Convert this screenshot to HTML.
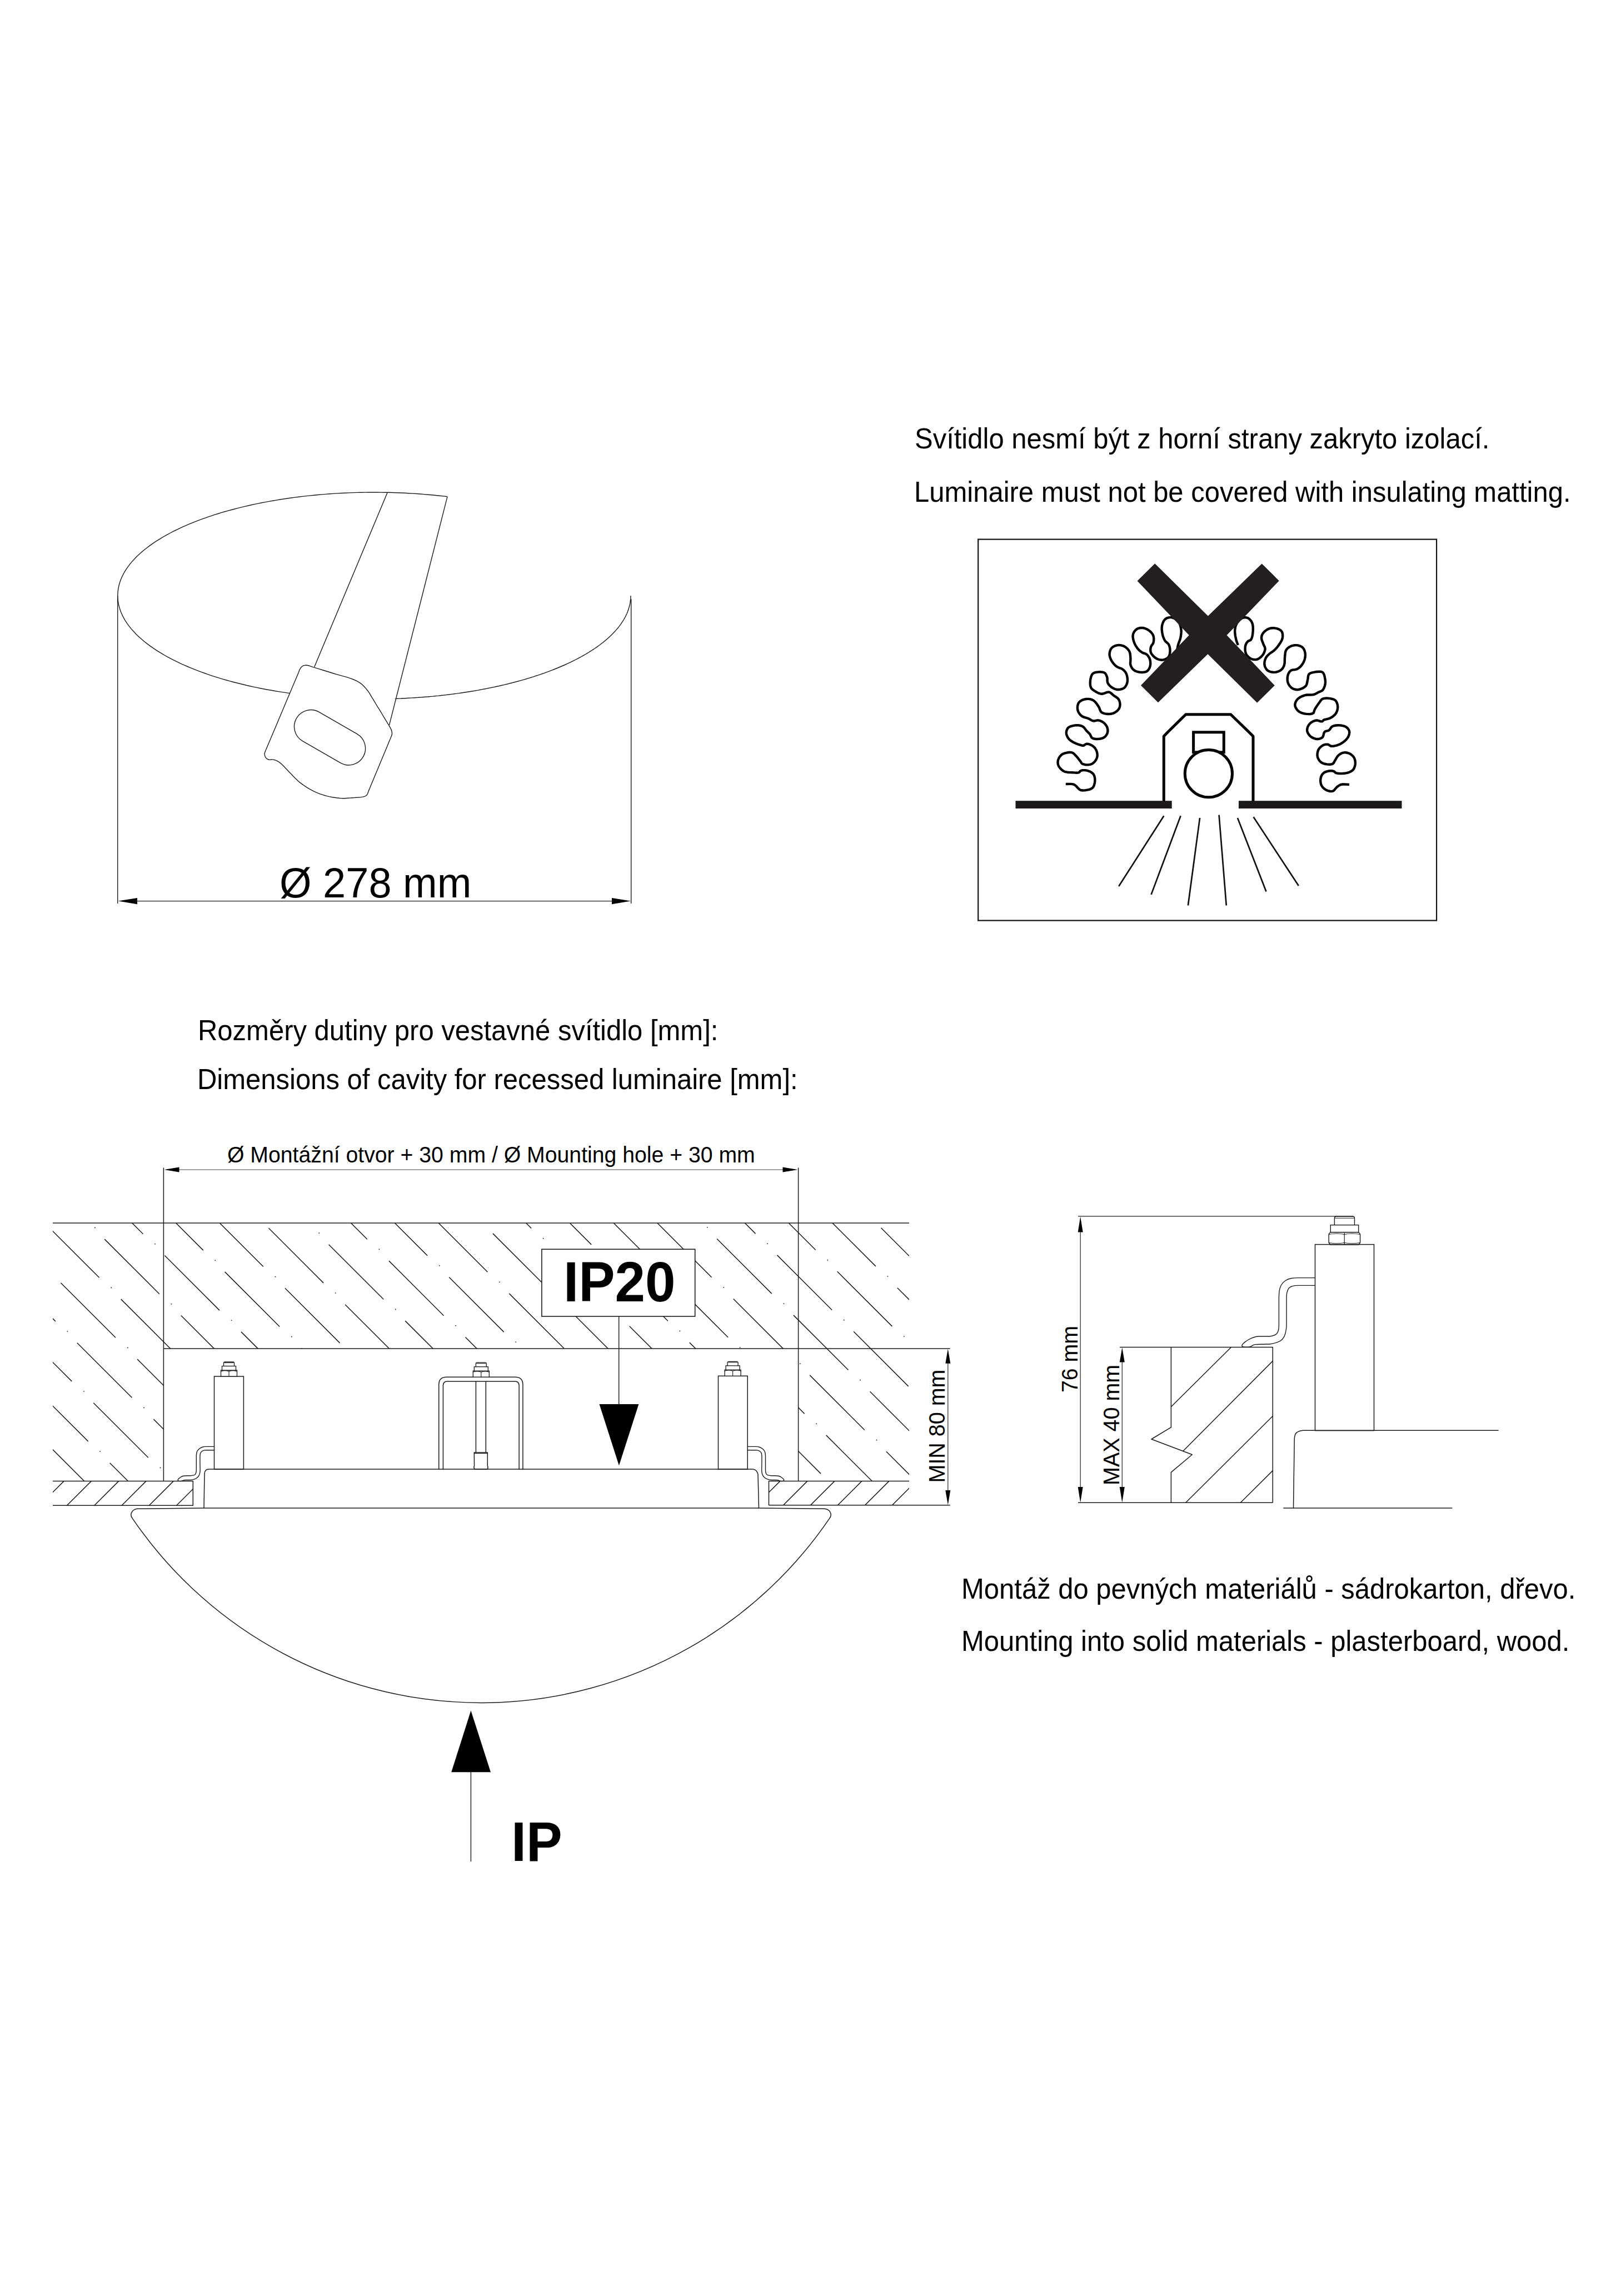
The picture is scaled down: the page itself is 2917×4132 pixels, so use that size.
<!DOCTYPE html>
<html><head><meta charset="utf-8"><title>Recessed luminaire</title>
<style>html,body{margin:0;padding:0;background:#fff;overflow:hidden}svg{display:block}</style></head>
<body><svg width="2917" height="4132" viewBox="0 0 2917 4132">
<rect width="2917" height="4132" fill="#fff"/>
<polyline points="805,893.7 798.1,892.9 791.2,892.2 784.3,891.5 777.4,890.8 770.4,890.2 763.4,889.6 756.4,889 749.4,888.5 742.3,888.1 735.2,887.7 728.1,887.3 721,887 713.9,886.7 706.8,886.5 699.7,886.3 692.6,886.2 685.4,886.1 678.3,886 671.1,886 664,886 656.9,886.1 649.7,886.2 642.6,886.4 635.5,886.6 628.3,886.9 621.2,887.2 614.2,887.5 607.1,887.9 600,888.4 593,888.8 585.9,889.4 578.9,889.9 572,890.5 565,891.2 558.1,891.9 551.2,892.6 544.3,893.4 537.5,894.2 530.7,895.1 523.9,896 517.1,897 510.4,898 503.8,899 497.1,900.1 490.6,901.2 484,902.4 477.5,903.6 471.1,904.8 464.7,906.1 458.4,907.4 452.1,908.8 445.8,910.2 439.6,911.6 433.5,913.1 427.4,914.6 421.4,916.2 415.5,917.8 409.6,919.4 403.7,921 398,922.7 392.3,924.5 386.6,926.2 381.1,928.1 375.6,929.9 370.2,931.8 364.8,933.7 359.5,935.6 354.3,937.6 349.2,939.6 344.2,941.6 339.2,943.7 334.3,945.8 329.5,947.9 324.8,950.1 320.1,952.3 315.6,954.5 311.1,956.7 306.7,959 302.4,961.3 298.2,963.6 294.1,966 290.1,968.4 286.2,970.8 282.3,973.2 278.6,975.6 274.9,978.1 271.4,980.6 267.9,983.1 264.5,985.7 261.3,988.2 258.1,990.8 255,993.4 252.1,996 249.2,998.7 246.4,1001.3 243.8,1004 241.2,1006.7 238.7,1009.4 236.4,1012.1 234.1,1014.8 232,1017.6 230,1020.3 228,1023.1 226.2,1025.9 224.5,1028.7 222.9,1031.5 221.4,1034.3 220,1037.1 218.7,1040 217.5,1042.8 216.5,1045.6 215.5,1048.5 214.7,1051.3 213.9,1054.2 213.3,1057.1 212.8,1059.9 212.4,1062.8 212.1,1065.7 211.9,1068.6 211.8,1071.5 211.8,1074.3 212,1077.2 212.2,1080.1 212.6,1083 213.1,1085.8 213.7,1088.7 214.4,1091.6 215.2,1094.4 216.1,1097.3 217.1,1100.1 218.2,1103 219.5,1105.8 220.8,1108.6 222.3,1111.4 223.9,1114.3 225.5,1117.1 227.3,1119.8 229.2,1122.6 231.2,1125.4 233.3,1128.1 235.5,1130.9 237.8,1133.6 240.3,1136.3 242.8,1139 245.4,1141.7 248.1,1144.3 251,1147 253.9,1149.6 256.9,1152.2 260,1154.8 263.3,1157.4 266.6,1159.9 270,1162.4 273.5,1164.9 277.2,1167.4 280.9,1169.9 284.7,1172.3 288.6,1174.7 292.6,1177.1 296.7,1179.5 300.8,1181.8 305.1,1184.1 309.4,1186.4 313.9,1188.7 318.4,1190.9 323,1193.1 327.7,1195.3 332.5,1197.4 337.3,1199.5 342.3,1201.6 347.3,1203.6 352.4,1205.7 357.5,1207.6 362.8,1209.6 368.1,1211.5 373.5,1213.4 379,1215.3 384.5,1217.1 390.1,1218.9 395.8,1220.6 401.5,1222.3 407.3,1224 413.2,1225.6 419.1,1227.2 425.1,1228.8 431.2,1230.3 437.3,1231.8 443.4,1233.3 449.7,1234.7 455.9,1236.1 462.3,1237.4 468.6,1238.7 475.1,1240 481.5,1241.2 488.1,1242.3 494.6,1243.5 501.2,1244.6 507.9,1245.6 514.6,1246.6 521.3,1247.6" fill="none" stroke="#1a1a1a" stroke-width="1.4" stroke-linejoin="round"/>
<polyline points="711.3,1257.4 714.7,1257.3 718.1,1257.1 721.6,1257 725,1256.8 728.4,1256.7 731.8,1256.5 735.2,1256.3 738.6,1256.1 742,1255.9 745.4,1255.7 748.8,1255.5 752.2,1255.3 755.6,1255 758.9,1254.8 762.3,1254.5 765.7,1254.2 769.1,1254 772.4,1253.7 775.8,1253.4 779.1,1253.1 782.5,1252.7 785.8,1252.4 789.1,1252.1 792.4,1251.7 795.8,1251.3 799.1,1251 802.4,1250.6 805.7,1250.2 808.9,1249.8 812.2,1249.4 815.5,1249 818.8,1248.5 822,1248.1 825.3,1247.6 828.5,1247.2 831.7,1246.7 835,1246.2 838.2,1245.7 841.4,1245.2 844.6,1244.7 847.8,1244.2 850.9,1243.7 854.1,1243.2 857.3,1242.6 860.4,1242.1 863.5,1241.5 866.7,1240.9 869.8,1240.3 872.9,1239.7 876,1239.1 879.1,1238.5 882.1,1237.9 885.2,1237.3 888.2,1236.6 891.3,1236 894.3,1235.3 897.3,1234.7 900.3,1234 903.3,1233.3 906.3,1232.6 909.2,1231.9 912.2,1231.2 915.1,1230.5 918,1229.7 920.9,1229 923.8,1228.2 926.7,1227.5 929.6,1226.7 932.4,1226 935.3,1225.2 938.1,1224.4 940.9,1223.6 943.7,1222.8 946.5,1222 949.2,1221.1 952,1220.3 954.7,1219.5 957.4,1218.6 960.1,1217.8 962.8,1216.9 965.5,1216 968.1,1215.2 970.8,1214.3 973.4,1213.4 976,1212.5 978.6,1211.6 981.1,1210.6 983.7,1209.7 986.2,1208.8 988.7,1207.8 991.2,1206.9 993.7,1205.9 996.2,1205 998.6,1204 1001.1,1203 1003.5,1202 1005.9,1201 1008.2,1200 1010.6,1199 1012.9,1198 1015.3,1197 1017.6,1196 1019.8,1194.9 1022.1,1193.9 1024.3,1192.8 1026.6,1191.8 1028.8,1190.7 1030.9,1189.6 1033.1,1188.6 1035.2,1187.5 1037.4,1186.4 1039.5,1185.3 1041.6,1184.2 1043.6,1183.1 1045.7,1182 1047.7,1180.9 1049.7,1179.7 1051.7,1178.6 1053.6,1177.5 1055.6,1176.3 1057.5,1175.2 1059.4,1174 1061.2,1172.9 1063.1,1171.7 1064.9,1170.5 1066.7,1169.3 1068.5,1168.2 1070.3,1167 1072,1165.8 1073.8,1164.6 1075.5,1163.4 1077.1,1162.2 1078.8,1161 1080.4,1159.7 1082,1158.5 1083.6,1157.3 1085.2,1156.1 1086.7,1154.8 1088.2,1153.6 1089.7,1152.3 1091.2,1151.1 1092.7,1149.8 1094.1,1148.6 1095.5,1147.3 1096.9,1146 1098.2,1144.8 1099.5,1143.5 1100.9,1142.2 1102.1,1140.9 1103.4,1139.6 1104.6,1138.3 1105.9,1137 1107,1135.7 1108.2,1134.4 1109.3,1133.1 1110.5,1131.8 1111.6,1130.5 1112.6,1129.2 1113.7,1127.9 1114.7,1126.6 1115.7,1125.2 1116.7,1123.9 1117.6,1122.6 1118.5,1121.2 1119.4,1119.9 1120.3,1118.6 1121.1,1117.2 1122,1115.9 1122.8,1114.5 1123.5,1113.2 1124.3,1111.8 1125,1110.5 1125.7,1109.1 1126.4,1107.8 1127,1106.4 1127.7,1105 1128.3,1103.7 1128.8,1102.3 1129.4,1101 1129.9,1099.6 1130.4,1098.2 1130.9,1096.8 1131.3,1095.5 1131.7,1094.1 1132.1,1092.7 1132.5,1091.3 1132.8,1090 1133.2,1088.6 1133.5,1087.2 1133.7,1085.8 1134,1084.5 1134.2,1083.1 1134.4,1081.7 1134.5,1080.3 1134.7,1078.9 1134.8,1077.5 1134.9,1076.2 1134.9,1074.8 1135,1073.4 1135,1072" fill="none" stroke="#1a1a1a" stroke-width="1.4" stroke-linejoin="round"/>
<line x1="211.7" y1="1072" x2="211.7" y2="1626" stroke="#1a1a1a" stroke-width="1.4"/>
<line x1="1135.7" y1="1078" x2="1135.7" y2="1626" stroke="#1a1a1a" stroke-width="1.4"/>
<line x1="240" y1="1621.6" x2="1110" y2="1621.6" stroke="#1a1a1a" stroke-width="1.3"/>
<polygon points="212.5,1621.6 247,1616 247,1627.2" fill="#000"/>
<polygon points="1135.2,1621.6 1101,1616 1101,1627.2" fill="#000"/>
<line x1="697" y1="886.7" x2="565.7" y2="1200.3" stroke="#1a1a1a" stroke-width="1.4"/>
<line x1="805" y1="893.8" x2="700.5" y2="1304.8" stroke="#1a1a1a" stroke-width="1.4"/>
<polyline points="552.2,1197.3 554,1197.5 555.8,1198 557.7,1198.6 559.7,1199.3 561.9,1200.1 564.3,1200.9 569.2,1202.4 574.9,1204.1 581.1,1206 587.6,1208 594.1,1210 600.3,1212 606.6,1213.8 613,1215.6 619.4,1217.4 625.7,1219.2 631.4,1221.1 636.4,1223 639.3,1224.3 641.9,1225.5 644.3,1226.8 646.5,1228.1 648.7,1229.6 650.9,1231.3 653.3,1233.5 655.7,1236 658.1,1238.6 660.2,1241.3 662.2,1243.7 663.7,1245.8 664.3,1246.7 664.8,1247.4 665.2,1248.1 665.6,1248.8 666.1,1249.7 666.7,1250.7 668.5,1253.8 670.9,1257.7 673.6,1262.2 676.5,1267 679.4,1271.8 682.2,1276.2 684.9,1280.7 687.8,1285.5 690.7,1290.3 693.4,1294.8 695.8,1298.7 697.6,1301.8 698.3,1302.8 698.8,1303.7 699.3,1304.4 699.7,1305.1 700.1,1305.9 700.6,1306.7 701.3,1307.9 702,1309.2 702.8,1310.6 703.5,1312 704.1,1313.4 704.6,1314.7 704.9,1315.8 705.1,1316.9 705.3,1318 705.4,1319.1 705.5,1320.1 705.4,1321.1 705.3,1322 705.1,1322.8 704.8,1323.6 704.5,1324.4 704.1,1325.2 703.8,1326 703.4,1326.9 703.1,1327.8 702.7,1328.7 702.3,1329.7 701.8,1330.9 701.2,1332.3 699,1337.4 696.2,1344.4 692.8,1352.5 689.2,1361.3 685.5,1370 682.2,1378.1 678.8,1386.2 675.1,1394.9 671.5,1403.7 668.1,1411.8 665.3,1418.8 663.1,1423.9 662.6,1425.4 662.2,1426.6 661.8,1427.6 661.5,1428.5 661.1,1429.4 660.5,1430.2 659.9,1430.9 659.2,1431.5 658.5,1432 657.7,1432.5 656.8,1433 655.7,1433.4 652.9,1434.1 649.4,1434.6 645.4,1435 641.2,1435.3 637,1435.6 633.2,1435.8 629.9,1436.1 626.8,1436.3 623.7,1436.5 620.5,1436.7 617.3,1436.7 614,1436.6 609.9,1436.3 605.6,1435.8 601.3,1435.2 596.9,1434.5 592.5,1433.6 588.3,1432.6 584.2,1431.5 580.1,1430.2 576.1,1428.8 572.2,1427.3 568.2,1425.6 564.3,1423.8 560.2,1421.7 556,1419.3 551.9,1416.8 547.9,1414.2 544,1411.4 540.2,1408.6 536.7,1405.7 533.4,1402.6 530.2,1399.4 527,1396.2 524,1393 521,1390 518.4,1387.3 515.9,1384.6 513.4,1381.9 511,1379.3 508.7,1376.9 506.5,1374.9 505.1,1373.7 503.7,1372.6 502.4,1371.7 501.2,1370.8 499.9,1370 498.5,1369.3 497.2,1368.7 495.8,1368.2 494.5,1367.7 493.1,1367.4 491.8,1367.1 490.5,1366.9 489.4,1366.9 488.3,1367 487.2,1367.2 486.2,1367.4 485.1,1367.4 484.1,1367.3 483.1,1367 482,1366.5 481,1365.9 480,1365.3 479.1,1364.5 478.4,1363.7 477.7,1362.7 477.1,1361.5 476.7,1360.2 476.3,1358.9 476.1,1357.6 476,1356.4 476.1,1355.6 476.3,1354.8 476.6,1354 476.9,1353.2 477.3,1352.4 477.6,1351.6 478,1350.5 478.4,1349.5 478.9,1348.5 479.4,1347.3 480,1345.9 480.7,1344.2 483.8,1336.9 488,1326.9 493.1,1315 498.5,1302.2 503.9,1289.3 508.9,1277.4 513.9,1265.6 519.3,1252.7 524.7,1239.9 529.8,1228 534,1218 537.1,1210.7 537.7,1209 538.3,1207.6 538.7,1206.4 539.1,1205.3 539.6,1204.3 540.2,1203.3 540.9,1202.3 541.6,1201.4 542.4,1200.5 543.2,1199.7 544.1,1199 545,1198.4 546,1197.9 547.2,1197.6 548.3,1197.4 549.6,1197.3 550.9,1197.2 552.2,1197.3" fill="none" stroke="#1a1a1a" stroke-width="1.4" stroke-linejoin="round"/>
<path d="M 544.5 1333.6 L 612.6 1372.9 A 30 30 0 0 0 642.6 1320.9 L 574.5 1281.6 A 30 30 0 0 0 544.5 1333.6 Z" fill="none" stroke="#1a1a1a" stroke-width="1.4" stroke-linejoin="round" stroke-linecap="round" />
<rect x="1760.2" y="970.6" width="824.9" height="686" fill="none" stroke="#111" stroke-width="2.2"/>
<polyline points="1917.8,1410.9 1920.8,1411 1923.9,1410.9 1926.9,1410.9 1929.8,1411.1 1932.6,1411.9 1935.2,1413.5 1937.5,1415.7 1939.7,1418.2 1942,1420.4 1944.4,1421.8 1946.5,1422.3 1948.7,1422.5 1950.9,1422.4 1953.1,1422.2 1955.3,1421.8 1957.6,1421.4 1960,1420.8 1962.3,1420.1 1964.4,1419.1 1966.1,1417.8 1967.4,1416.2 1968.4,1414.3 1969.1,1412.2 1969.7,1410.1 1970.1,1407.9 1970.3,1405.6 1970.4,1403 1970.2,1400.5 1969.7,1398.2 1969.1,1396.1 1968.4,1394.7 1967.6,1393.4 1966.6,1392.2 1965.5,1391.2 1964.2,1390.2 1962.4,1389.1 1960.2,1388.1 1957.9,1387.2 1955.5,1386.6 1953.3,1386.2 1951.4,1386.1 1949.4,1386.1 1947.5,1386.3 1945.8,1386.7 1944.4,1387.2 1943.7,1387.7 1943.2,1388.4 1942.8,1389.1 1942.2,1389.7 1941.5,1390.2 1939.7,1390.6 1937.4,1390.7 1934.9,1390.6 1932.2,1390.4 1929.6,1390.2 1926.7,1390.1 1923.6,1390 1920.5,1389.7 1917.5,1389.2 1914.8,1388.2 1912.4,1386.8 1910.1,1384.9 1908,1382.8 1906.2,1380.5 1904.9,1378.3 1904.2,1376.4 1903.7,1374.4 1903.5,1372.4 1903.6,1370.4 1903.9,1368.5 1904.6,1366.4 1905.6,1364.2 1906.8,1362.1 1908.3,1360.2 1909.9,1358.6 1911.6,1357.4 1913.5,1356.4 1915.6,1355.7 1917.6,1355.1 1919.7,1354.6 1921.7,1354.3 1923.8,1354 1925.8,1354 1927.8,1354.1 1929.6,1354.6 1931.1,1355.4 1932.6,1356.5 1933.9,1357.8 1935.2,1359.2 1936.5,1360.6 1938.2,1362.4 1939.9,1364.5 1941.5,1366.6 1943.1,1368.7 1944.4,1370.4 1945,1371.3 1945.6,1372.2 1946,1373 1946.6,1373.8 1947.4,1374.4 1949,1375.2 1950.9,1375.7 1953,1376.2 1955.2,1376.4 1957.3,1376.4 1959.3,1376.2 1961.4,1375.8 1963.4,1375.3 1965.4,1374.5 1967.1,1373.4 1968.8,1371.9 1970.5,1370 1971.9,1367.9 1973.1,1365.7 1974,1363.5 1974.5,1361.6 1974.7,1359.6 1974.6,1357.6 1974.4,1355.6 1974,1353.7 1973.4,1351.8 1972.6,1349.9 1971.5,1348 1970.4,1346.3 1969.1,1344.8 1967.7,1343.5 1966.1,1342.4 1964.5,1341.3 1962.8,1340.5 1961.2,1339.8 1960,1339.4 1958.8,1339 1957.6,1338.8 1956.5,1338.7 1955.3,1338.8 1954.1,1339.2 1952.9,1339.9 1951.7,1340.7 1950.6,1341.4 1949.4,1341.8 1948.4,1341.8 1947.5,1341.7 1946.5,1341.5 1945.5,1341.2 1944.4,1340.8 1942.2,1340.1 1939.5,1339.3 1936.8,1338.3 1934.1,1337.1 1931.6,1335.9 1929.6,1334.7 1927.6,1333.5 1925.8,1332.1 1924.1,1330.6 1922.7,1329 1921.5,1327.2 1920.5,1325.2 1919.6,1323.2 1919,1321.1 1918.8,1319.1 1918.9,1317.2 1919.2,1315.3 1919.9,1313.4 1920.7,1311.7 1921.7,1310.2 1922.9,1309.1 1924.4,1308.2 1926,1307.4 1927.8,1306.8 1929.6,1306.3 1931.8,1305.8 1934.3,1305.4 1936.8,1305.2 1939.2,1305.1 1941.5,1305.3 1943.2,1305.6 1944.9,1306 1946.5,1306.6 1948,1307.3 1949.4,1308.2 1950.7,1309.4 1951.9,1310.7 1953,1312.3 1954.1,1313.8 1955.3,1315.2 1956.5,1316.4 1957.7,1317.6 1959,1318.7 1960.1,1319.9 1961.2,1321.1 1962,1322.5 1962.7,1324 1963.4,1325.5 1964.1,1326.9 1965.2,1328 1966.8,1328.9 1968.7,1329.5 1970.7,1329.8 1972.9,1330 1975,1330 1977.4,1329.8 1980,1329.5 1982.5,1328.9 1984.9,1328.1 1986.9,1327 1988.5,1325.8 1989.9,1324.3 1991.1,1322.6 1992.1,1320.9 1992.8,1319.1 1993.2,1317.4 1993.4,1315.6 1993.4,1313.8 1993.2,1312 1992.8,1310.2 1992.1,1308.3 1991.1,1306.4 1989.8,1304.5 1988.4,1302.8 1986.9,1301.3 1985.2,1300 1983.2,1298.7 1981.2,1297.7 1979.1,1296.9 1977,1296.4 1975,1296.3 1973,1296.7 1971,1297.1 1969,1297.5 1967.1,1297.4 1965.5,1296.9 1963.9,1296.1 1962.4,1295.2 1960.9,1294.3 1959.2,1293.4 1956.8,1292.5 1954,1291.7 1951.3,1290.9 1948.7,1289.9 1946.4,1288.5 1944.6,1286.9 1942.9,1285 1941.5,1283 1940.3,1280.8 1939.5,1278.6 1939,1276.1 1938.9,1273.4 1939.1,1270.6 1939.7,1268 1940.5,1265.8 1941.5,1264.3 1942.7,1262.9 1944.1,1261.8 1945.7,1260.8 1947.4,1259.9 1949.5,1259.1 1951.9,1258.5 1954.4,1258 1956.9,1257.9 1959.2,1257.9 1961.1,1258.1 1962.9,1258.5 1964.7,1259.1 1966.4,1259.9 1968.1,1260.9 1970.1,1262.6 1972,1264.6 1973.8,1267 1975.5,1269.4 1977,1271.7 1978.1,1273.8 1978.9,1276 1979.6,1278.1 1980.6,1280 1981.9,1281.6 1983.8,1282.8 1986.2,1283.8 1988.7,1284.4 1991.3,1284.8 1993.8,1285 1996,1285 1998.2,1284.8 2000.5,1284.5 2002.6,1283.9 2004.6,1283.1 2006.6,1282 2008.7,1280.7 2010.6,1279.1 2012.2,1277.4 2013.5,1275.7 2014.3,1274.1 2014.9,1272.3 2015.3,1270.5 2015.5,1268.6 2015.5,1266.8 2015.3,1265 2014.9,1263.1 2014.3,1261.2 2013.5,1259.5 2012.5,1257.9 2011.2,1256.5 2009.7,1255.3 2008,1254.2 2006.3,1253.1 2004.6,1252 2002.9,1250.6 2001.1,1249 1999.4,1247.5 1997.5,1246.2 1995.5,1245.5 1993,1245.6 1990.4,1246.4 1987.6,1247.6 1984.8,1248.5 1982.2,1248.8 1979.9,1248.4 1977.5,1247.7 1975.3,1246.6 1973.1,1245.5 1971.1,1244.3 1969.3,1243.2 1967.5,1242.1 1965.9,1240.8 1964.4,1239.4 1963.3,1237.7 1962.4,1235.2 1961.9,1232.3 1961.8,1229.2 1961.9,1226.1 1962.2,1223.2 1962.7,1220.7 1963.3,1218.2 1964.2,1215.8 1965.3,1213.7 1966.7,1212.1 1968.3,1211 1970.3,1210.3 1972.4,1209.8 1974.6,1209.6 1976.7,1209.4 1979,1209.3 1981.4,1209.4 1983.8,1209.6 1986,1210.1 1987.8,1211 1989.1,1212.1 1990.1,1213.6 1990.9,1215.3 1991.6,1217 1992.2,1218.8 1992.6,1220.7 1992.6,1222.8 1992.6,1224.9 1992.8,1226.9 1993.3,1228.8 1994.2,1230.6 1995.4,1232.3 1996.8,1233.8 1998.3,1235.3 2000,1236.6 2002,1237.9 2004.1,1239 2006.4,1240 2008.8,1240.7 2011.1,1241 2013.6,1241 2016.2,1240.6 2018.9,1240 2021.3,1239 2023.3,1237.7 2024.9,1236 2026.3,1233.9 2027.4,1231.6 2028.3,1229.1 2028.8,1226.6 2029,1223.8 2028.8,1220.7 2028.3,1217.6 2027.6,1214.7 2026.6,1212.1 2025.6,1210.3 2024.4,1208.6 2023.1,1207.1 2021.6,1205.7 2020,1204.4 2018.2,1203.3 2016.1,1202.5 2014,1201.8 2011.9,1200.9 2010,1199.9 2008.3,1198.6 2006.6,1197.2 2005,1195.7 2003.6,1194 2002.2,1192.2 2000.7,1189.8 1999.2,1187.2 1998,1184.4 1997.1,1181.5 1996.6,1178.8 1996.6,1176.2 1997,1173.6 1997.7,1171 1998.7,1168.6 2000,1166.6 2001.7,1165 2003.8,1163.6 2006.2,1162.4 2008.7,1161.6 2011.1,1161.1 2013.5,1160.9 2016.1,1161.1 2018.6,1161.6 2021.1,1162.3 2023.3,1163.3 2025.4,1164.6 2027.4,1166.2 2029.3,1168.1 2030.9,1170.1 2032.2,1172.2 2033.1,1174.4 2033.7,1176.8 2034,1179.4 2034.2,1181.9 2034.4,1184.4 2034.4,1186.9 2034.3,1189.4 2034.1,1191.9 2034,1194.3 2034.4,1196.6 2035.1,1198.6 2036,1200.6 2037.1,1202.4 2038.4,1204.1 2039.9,1205.5 2041.9,1206.9 2044.3,1208 2047,1208.9 2049.6,1209.5 2052.2,1209.9 2054.7,1210 2057.4,1209.9 2060,1209.5 2062.4,1208.8 2064.4,1207.7 2066,1206.2 2067.3,1204.3 2068.5,1202.2 2069.3,1199.9 2069.9,1197.7 2070.2,1195.3 2070.2,1192.8 2070,1190.2 2069.5,1187.7 2068.8,1185.5 2068,1183.7 2067,1182 2065.9,1180.4 2064.7,1178.9 2063.3,1177.7 2061.9,1176.8 2060.3,1176.2 2058.7,1175.7 2057.1,1175.2 2055.5,1174.4 2053.9,1173.3 2052.2,1172.1 2050.7,1170.8 2049.1,1169.3 2047.7,1167.7 2046.2,1165.8 2044.7,1163.6 2043.3,1161.4 2042.1,1159 2041.1,1156.6 2040.2,1153.8 2039.3,1150.9 2038.8,1147.8 2038.5,1144.9 2038.8,1142.2 2039.5,1139.9 2040.6,1137.6 2042.1,1135.5 2043.7,1133.7 2045.5,1132.2 2047.4,1131.2 2049.6,1130.5 2051.9,1130 2054.3,1129.9 2056.6,1130 2059.1,1130.5 2061.7,1131.4 2064.3,1132.6 2066.7,1134 2068.8,1135.5 2070.5,1137 2072.1,1138.7 2073.5,1140.5 2074.6,1142.4 2075.5,1144.4 2076,1146.7 2076.3,1149.2 2076.2,1151.8 2076,1154.3 2075.5,1156.6 2074.8,1158.3 2073.8,1159.8 2072.7,1161.3 2071.7,1162.8 2071,1164.4 2070.6,1166.3 2070.3,1168.3 2070.3,1170.4 2070.5,1172.5 2071,1174.4 2072.1,1176.6 2073.7,1178.8 2075.7,1181 2077.8,1182.9 2079.9,1184.4 2081.9,1185.6 2084.2,1186.5 2086.4,1187.2 2088.7,1187.6 2091,1187.7 2093.4,1187.4 2095.8,1186.8 2098.2,1185.9 2100.4,1184.7 2102.1,1183.3 2103.3,1181.5 2104.3,1179.4 2104.9,1177 2105.3,1174.6 2105.5,1172.2 2105.5,1169.7 2105.3,1167.1 2104.8,1164.6 2104.1,1162.1 2103.2,1160 2102.1,1158.5 2100.8,1157.2 2099.3,1156 2097.8,1154.8 2096.6,1153.3 2095.4,1151.4 2094.4,1149.2 2093.5,1147 2092.7,1144.6 2092.1,1142.2 2091.5,1139.2 2091,1136.1 2090.7,1132.8 2090.7,1129.6 2091,1126.6 2091.6,1123.9 2092.5,1121.1 2093.6,1118.5 2095,1116.2 2096.6,1114.4 2098.5,1113.1 2100.6,1112.1 2103,1111.4 2105.4,1111.1 2107.7,1111.1 2110.2,1111.6 2112.9,1112.7 2115.5,1114.1 2117.9,1115.9 2119.9,1117.8 2121.6,1120.2 2123,1123 2124,1126 2124.8,1129.1 2125.4,1132.2 2125.7,1135.3 2125.6,1138.4 2125.3,1141.6 2124.9,1144.7 2124.3,1147.7 2123.6,1150.5 2122.7,1153.2 2121.6,1155.9 2120.7,1158.5 2119.9,1161.1 2119.4,1163.3 2119,1165.5 2118.7,1167.7 2118.3,1169.8 2118,1172" fill="none" stroke="#000" stroke-width="4.4" stroke-linejoin="round"/>
<polyline points="2428.1,1411.9 2425.1,1411.8 2421.9,1411.6 2418.8,1411.4 2415.9,1411.5 2413.3,1411.9 2411.5,1412.6 2409.8,1413.5 2408.3,1414.5 2406.9,1415.6 2405.4,1416.8 2404,1418.2 2402.7,1419.8 2401.5,1421.4 2400.1,1422.8 2398.5,1423.7 2396.4,1424.1 2393.9,1424 2391.3,1423.5 2388.8,1422.8 2386.6,1421.8 2384.5,1420.5 2382.4,1418.9 2380.5,1417.1 2378.9,1415 2377.7,1412.9 2376.9,1410.5 2376.4,1407.9 2376.2,1405.1 2376.3,1402.4 2376.7,1400 2377.3,1398 2378,1396.1 2379.1,1394.2 2380.3,1392.6 2381.7,1391.2 2383.7,1389.9 2386.1,1388.9 2388.7,1388.1 2391.2,1387.5 2393.5,1387.2 2395,1387.1 2396.5,1387.2 2397.9,1387.4 2399.2,1387.8 2400.4,1388.2 2401.2,1388.7 2401.9,1389.4 2402.6,1390.1 2403.4,1390.7 2404.4,1391.2 2407.3,1391.8 2411.1,1392.1 2415.3,1392.1 2419.4,1391.8 2423.1,1391.2 2425.8,1390.5 2428.5,1389.5 2431,1388.3 2433.2,1386.9 2435,1385.2 2436.4,1383.2 2437.4,1380.9 2438.2,1378.4 2438.7,1375.8 2438.9,1373.4 2438.8,1371.1 2438.5,1368.8 2437.9,1366.6 2437.1,1364.4 2436,1362.5 2434.6,1360.8 2433,1359.2 2431.1,1357.7 2429.1,1356.5 2427.1,1355.6 2425.2,1355 2423.2,1354.5 2421.2,1354.3 2419.1,1354.3 2417.2,1354.6 2415.3,1355.2 2413.4,1356 2411.6,1357 2409.9,1358.3 2408.3,1359.6 2406.9,1361.2 2405.6,1363 2404.5,1364.9 2403.5,1366.8 2402.4,1368.5 2401.6,1369.8 2401,1371.2 2400.3,1372.4 2399.5,1373.5 2398.5,1374.4 2396.7,1375.1 2394.6,1375.5 2392.3,1375.7 2389.9,1375.6 2387.6,1375.4 2385.3,1375 2383,1374.5 2380.7,1373.7 2378.6,1372.7 2376.7,1371.4 2375.1,1369.8 2373.6,1368 2372.4,1365.9 2371.4,1363.7 2370.8,1361.5 2370.5,1359 2370.6,1356.3 2371.1,1353.6 2371.8,1351 2372.8,1348.7 2374.1,1346.7 2375.8,1344.9 2377.8,1343.2 2379.8,1341.8 2381.7,1340.8 2383.3,1340.2 2384.9,1339.8 2386.5,1339.6 2388.1,1339.6 2389.6,1339.8 2390.8,1340.2 2391.9,1340.9 2393,1341.7 2394.2,1342.4 2395.5,1342.8 2397.6,1342.9 2400,1342.7 2402.4,1342.2 2404.9,1341.6 2407.3,1340.8 2409.6,1339.9 2411.9,1338.9 2414.1,1337.7 2416.2,1336.3 2418.2,1334.9 2420.1,1333.3 2421.8,1331.7 2423.5,1329.8 2424.9,1328 2426.1,1326 2427,1324.1 2427.6,1322.1 2428.1,1320 2428.3,1318 2428.1,1316.1 2427.5,1314.3 2426.5,1312.6 2425.3,1310.9 2423.8,1309.4 2422.2,1308.2 2420,1307.1 2417.5,1306.3 2414.7,1305.8 2412,1305.4 2409.3,1305.3 2406.8,1305.3 2404.3,1305.5 2401.8,1305.8 2399.5,1306.4 2397.5,1307.3 2396.1,1308.4 2394.9,1309.9 2393.9,1311.5 2392.8,1313 2391.5,1314.2 2390,1314.9 2388.3,1315.4 2386.6,1315.7 2385,1316.2 2383.7,1317.1 2382.7,1318.7 2382,1320.9 2381.5,1323.2 2380.8,1325.3 2379.7,1327 2378.1,1328.1 2376.2,1329 2374.1,1329.6 2371.9,1330 2369.8,1330 2367.4,1329.7 2364.9,1328.9 2362.3,1327.9 2360,1326.5 2358,1325 2356.3,1323.2 2354.7,1321.1 2353.4,1318.9 2352.5,1316.5 2352.1,1314.2 2352.3,1311.8 2352.9,1309.2 2354,1306.7 2355.4,1304.3 2357,1302.3 2358.9,1300.6 2361.2,1299.1 2363.8,1297.8 2366.4,1296.9 2368.8,1296.4 2370.9,1296.5 2373,1297.1 2375.1,1297.8 2377,1298.4 2378.7,1298.4 2379.6,1298 2380.4,1297.4 2381,1296.7 2381.8,1296 2382.7,1295.4 2384.5,1294.8 2386.7,1294.3 2389,1293.8 2391.3,1293.2 2393.5,1292.4 2395.7,1291.2 2397.9,1289.8 2399.9,1288.2 2401.8,1286.5 2403.4,1284.6 2404.7,1282.5 2405.8,1280.1 2406.6,1277.7 2407.1,1275.1 2407.3,1272.7 2407.1,1270.2 2406.7,1267.6 2405.9,1265.1 2404.8,1262.8 2403.4,1260.9 2401.7,1259.6 2399.6,1258.5 2397.3,1257.8 2394.9,1257.3 2392.5,1256.9 2389.9,1256.6 2387.2,1256.5 2384.4,1256.7 2381.9,1257.1 2379.7,1257.9 2378.2,1258.9 2377,1260.2 2376,1261.6 2374.9,1263.2 2373.8,1264.8 2372.2,1267 2370.5,1269.4 2368.8,1272 2367.2,1274.4 2365.9,1276.7 2365.3,1278.3 2364.8,1279.8 2364.4,1281.3 2363.9,1282.6 2362.9,1283.6 2360.8,1284.5 2358.1,1285 2355.1,1285.1 2352,1284.9 2349.1,1284.6 2346.4,1284.1 2343.6,1283.3 2340.9,1282.4 2338.4,1281.1 2336.3,1279.6 2334.5,1277.8 2332.9,1275.7 2331.6,1273.4 2330.7,1271.1 2330.3,1268.8 2330.5,1266.6 2331.2,1264.2 2332.3,1261.9 2333.7,1259.8 2335.3,1257.9 2337.5,1256.1 2340.1,1254.4 2343.1,1253.1 2346.1,1251.9 2349.1,1251 2352,1250.5 2355.1,1250.4 2358.2,1250.5 2361.2,1250.4 2363.9,1250 2366,1249.3 2367.9,1248.4 2369.7,1247.4 2371.5,1246.4 2373.2,1245.5 2374.7,1244.9 2376.1,1244.3 2377.5,1243.8 2378.8,1243.1 2380,1242.1 2381.2,1240.5 2382.3,1238.6 2383.2,1236.4 2384,1234.2 2384.5,1232 2384.8,1230 2385,1228.1 2385,1226.1 2384.8,1224 2384.5,1222 2384,1219.4 2383.5,1216.7 2382.6,1213.9 2381.5,1211.6 2380,1209.9 2377.9,1209 2375.2,1208.6 2372.3,1208.7 2369.3,1209 2366.6,1209.4 2364.1,1209.8 2361.6,1210.3 2359.2,1211 2357.1,1212 2355.5,1213.3 2354.6,1214.9 2354.1,1216.8 2353.8,1218.9 2353.6,1221.1 2353.2,1223.2 2352.7,1225.5 2352.3,1227.8 2351.8,1230.2 2351.1,1232.4 2349.9,1234.3 2347.9,1236.2 2345.3,1237.9 2342.4,1239.3 2339.4,1240.4 2336.6,1241 2334.3,1241.2 2332,1241 2329.7,1240.5 2327.5,1239.8 2325.5,1238.8 2323.6,1237.4 2321.7,1235.5 2320.1,1233.4 2318.7,1231.1 2317.7,1228.8 2317,1226.1 2316.7,1223.1 2316.7,1220 2317.1,1217 2317.7,1214.4 2318.4,1212.5 2319.4,1210.8 2320.5,1209.1 2321.8,1207.7 2323.3,1206.6 2325.1,1205.8 2327.1,1205.4 2329.2,1205.2 2331.3,1204.9 2333.2,1204.4 2334.7,1203.7 2336.1,1202.9 2337.4,1202.1 2338.7,1201.1 2339.9,1199.9 2341.4,1198.3 2342.9,1196.4 2344.3,1194.3 2345.6,1192.1 2346.6,1189.9 2347.5,1187.4 2348.2,1184.7 2348.7,1181.9 2348.9,1179.2 2348.8,1176.6 2348.4,1174.2 2347.8,1171.7 2346.9,1169.4 2345.7,1167.3 2344.3,1165.5 2342.5,1164.1 2340.4,1162.9 2338,1162.1 2335.5,1161.4 2333.2,1161.1 2330.9,1161.1 2328.6,1161.3 2326.3,1161.8 2324.1,1162.4 2322.1,1163.3 2320.3,1164.3 2318.6,1165.4 2317,1166.7 2315.6,1168.2 2314.4,1169.9 2313.5,1172 2312.9,1174.4 2312.6,1177 2312.4,1179.6 2312.1,1182.2 2311.9,1185.1 2311.8,1188.1 2311.8,1191.1 2311.6,1194 2311,1196.6 2310.3,1198.7 2309.4,1200.6 2308.3,1202.4 2307,1204.1 2305.5,1205.5 2303.5,1206.9 2301.1,1208.1 2298.5,1209 2295.9,1209.6 2293.3,1209.9 2290.8,1209.8 2288.1,1209.5 2285.5,1208.8 2283.1,1207.9 2281.1,1206.6 2279.5,1205.1 2278.1,1203.2 2276.9,1201 2276,1198.8 2275.5,1196.6 2275.3,1194.2 2275.5,1191.7 2276,1189.1 2276.8,1186.6 2277.7,1184.4 2278.7,1182.6 2280,1181 2281.4,1179.4 2282.9,1178 2284.4,1176.6 2285.9,1175.4 2287.4,1174.4 2289,1173.4 2290.6,1172.3 2292.2,1171.1 2294,1169.4 2295.9,1167.5 2297.7,1165.4 2299.4,1163.3 2301,1161.1 2302.6,1158.8 2304.2,1156.4 2305.7,1153.9 2306.9,1151.3 2307.7,1148.8 2308.1,1146.3 2308.2,1143.7 2308,1141 2307.5,1138.6 2306.6,1136.6 2305.3,1135.1 2303.7,1133.8 2301.8,1132.7 2299.8,1131.8 2297.7,1131.1 2295.2,1130.6 2292.5,1130.3 2289.7,1130.2 2287,1130.5 2284.4,1131.1 2281.9,1132.1 2279.4,1133.5 2277.1,1135.2 2275,1137 2273.3,1138.9 2272.2,1140.5 2271.3,1142.2 2270.6,1144 2270.2,1145.8 2270,1147.7 2270.2,1149.9 2270.8,1152.1 2271.6,1154.4 2272.5,1156.6 2273.3,1158.8 2274,1160.6 2274.9,1162.4 2275.8,1164.1 2276.4,1165.9 2276.6,1167.7 2276.4,1169.9 2275.7,1172.2 2274.7,1174.6 2273.6,1176.8 2272.2,1178.8 2270.6,1180.7 2268.7,1182.6 2266.6,1184.3 2264.4,1185.7 2262.2,1186.6 2260,1187 2257.8,1187.1 2255.4,1186.8 2253.2,1186.3 2251.1,1185.5 2249,1184.3 2247,1182.7 2245.1,1180.9 2243.4,1178.8 2242.2,1176.6 2241.3,1174 2240.8,1171 2240.6,1167.8 2240.7,1164.8 2241.1,1162.2 2241.6,1160.4 2242.4,1158.7 2243.3,1157.1 2244.4,1155.6 2245.5,1154.4 2246.6,1153.6 2247.7,1153.1 2249,1152.6 2250.1,1152 2251.1,1151.1 2252.2,1149.3 2253,1147 2253.6,1144.4 2254.1,1141.6 2254.4,1138.9 2254.7,1135.4 2254.8,1131.7 2254.7,1127.8 2254.2,1124.2 2253.3,1121.1 2252.2,1118.8 2250.8,1116.7 2249.1,1114.9 2247.4,1113.3 2245.5,1112.2 2243.7,1111.6 2241.6,1111.3 2239.5,1111.3 2237.5,1111.6 2235.5,1112.2 2233.3,1113.5 2231,1115.3 2228.9,1117.5 2227,1119.8 2225.5,1122.2 2224.4,1124.4 2223.5,1126.8 2222.9,1129.2 2222.5,1131.8 2222.2,1134.4 2222.2,1137.6 2222.5,1141.1 2223,1144.6 2223.7,1148 2224.4,1151.1 2225,1153.3 2225.7,1155.3 2226.4,1157.2 2227.1,1159.1 2227.8,1161.1" fill="none" stroke="#000" stroke-width="4.4" stroke-linejoin="round"/>
<polygon points="2046.6,1045.4 2152.7,1156.7 2262.2,1264.8 2293.8,1233.6 2187.7,1122.3 2078.2,1014.2" fill="#231f20"/>
<polygon points="2270.7,1014.4 2160,1122 2053,1233.4 2084,1264.2 2194.7,1156.6 2301.7,1045.2" fill="#231f20"/>
<rect x="1827.5" y="1441.2" width="281.2" height="13.8" fill="#1c1a1b"/>
<rect x="2229" y="1441.2" width="293.5" height="13.8" fill="#1c1a1b"/>
<polyline points="2094.3,1442 2094.3,1325 2101,1318 2133.8,1285.8 2214.7,1285.8 2248,1318 2255,1325 2255,1442" fill="none" stroke="#000" stroke-width="5.0" stroke-linejoin="round"/>
<rect x="2147.6" y="1317.8" width="54.7" height="36" fill="none" stroke="#000" stroke-width="5"/>
<circle cx="2174.9" cy="1392.2" r="42.6" fill="#fff" stroke="#000" stroke-width="5"/>
<line x1="2094.4" y1="1468.2" x2="2013.2" y2="1595" stroke="#111" stroke-width="2.7"/>
<line x1="2124.6" y1="1468.2" x2="2071.6" y2="1609.9" stroke="#111" stroke-width="2.7"/>
<line x1="2159.1" y1="1471.9" x2="2137.9" y2="1629.5" stroke="#111" stroke-width="2.7"/>
<line x1="2193.6" y1="1466.6" x2="2206.8" y2="1629.5" stroke="#111" stroke-width="2.7"/>
<line x1="2227" y1="1471.9" x2="2278.5" y2="1604.6" stroke="#111" stroke-width="2.7"/>
<line x1="2255.6" y1="1470.3" x2="2336.8" y2="1594" stroke="#111" stroke-width="2.7"/>
<line x1="300" y1="2105" x2="1431" y2="2105" stroke="#444" stroke-width="1.2"/>
<polygon points="295.5,2105 322.5,2100.5 322.5,2109.5" fill="#000"/>
<polygon points="1435.5,2105 1408.5,2100.5 1408.5,2109.5" fill="#000"/>
<line x1="294.4" y1="2101.5" x2="294.4" y2="2665.6" stroke="#1a1a1a" stroke-width="1.5"/>
<line x1="1436.6" y1="2101.5" x2="1436.6" y2="2665.6" stroke="#1a1a1a" stroke-width="1.5"/>
<line x1="95" y1="2201" x2="1636" y2="2201" stroke="#1a1a1a" stroke-width="1.5"/>
<line x1="294.4" y1="2427" x2="1709.7" y2="2427" stroke="#1a1a1a" stroke-width="1.5"/>
<clipPath id="ch"><path d="M95 2201 H1636 V2665.6 H1436.6 V2427 H294.4 V2665.6 H95 Z"/></clipPath>
<g clip-path="url(#ch)"><path d="M-48.2 2465.9l98.6 98.6M-18.8 2573.9l98.6 98.6M10.6 2681.9l98.6 98.6M-28.2 2171.3l98.6 98.6M1.2 2279.3l98.6 98.6M30.6 2387.3l98.6 98.6M60 2495.3l98.6 98.6M89.4 2603.3l98.6 98.6M118.8 2711.3l98.6 98.6M50.6 2092.7l98.6 98.6M80 2200.7l98.6 98.6M109.4 2308.7l98.6 98.6M138.8 2416.7l98.6 98.6M168.2 2524.7l98.6 98.6M197.6 2632.7l98.6 98.6M227.1 2740.7l98.6 98.6M158.8 2122.1l98.6 98.6M188.2 2230.1l98.6 98.6M217.7 2338.1l98.6 98.6M247.1 2446.1l98.6 98.6M276.4 2554.1l98.6 98.6M305.9 2662.1l98.6 98.6M267.1 2151.5l98.6 98.6M296.4 2259.5l98.6 98.6M325.8 2367.5l98.6 98.6M355.2 2475.5l98.6 98.6M384.6 2583.5l98.6 98.6M414 2691.5l98.6 98.6M345.8 2072.9l98.6 98.6M375.2 2180.9l98.6 98.6M404.6 2288.9l98.6 98.6M434 2396.9l98.6 98.6M463.4 2504.9l98.6 98.6M492.8 2612.9l98.6 98.6M522.2 2720.9l98.6 98.6M454.1 2102.3l98.6 98.6M483.5 2210.3l98.6 98.6M512.9 2318.3l98.6 98.6M542.2 2426.3l98.6 98.6M571.6 2534.3l98.6 98.6M601 2642.3l98.6 98.6M562.2 2131.7l98.6 98.6M591.6 2239.7l98.6 98.6M621 2347.7l98.6 98.6M650.4 2455.7l98.6 98.6M679.8 2563.7l98.6 98.6M709.2 2671.7l98.6 98.6M641 2053.1l98.6 98.6M670.5 2161.1l98.6 98.6M699.9 2269.1l98.6 98.6M729.2 2377.1l98.6 98.6M758.6 2485.1l98.6 98.6M788 2593.1l98.6 98.6M817.5 2701.1l98.6 98.6M749.2 2082.5l98.6 98.6M778.7 2190.5l98.6 98.6M808.1 2298.5l98.6 98.6M837.5 2406.5l98.6 98.6M866.9 2514.5l98.6 98.6M896.2 2622.5l98.6 98.6M925.7 2730.5l98.6 98.6M857.5 2111.9l98.6 98.6M886.9 2219.9l98.6 98.6M916.2 2327.9l98.6 98.6M945.6 2435.9l98.6 98.6M975 2543.9l98.6 98.6M1004.4 2651.9l98.6 98.6M965.6 2141.3l98.6 98.6M995 2249.3l98.6 98.6M1024.4 2357.3l98.6 98.6M1053.8 2465.3l98.6 98.6M1083.2 2573.3l98.6 98.6M1112.6 2681.3l98.6 98.6M1044.5 2062.7l98.6 98.6M1073.9 2170.7l98.6 98.6M1103.3 2278.7l98.6 98.6M1132.7 2386.7l98.6 98.6M1162.1 2494.7l98.6 98.6M1191.5 2602.7l98.6 98.6M1220.9 2710.7l98.6 98.6M1152.7 2092.1l98.6 98.6M1182 2200.1l98.6 98.6M1211.5 2308.1l98.6 98.6M1240.8 2416.1l98.6 98.6M1270.2 2524.1l98.6 98.6M1299.7 2632.1l98.6 98.6M1329 2740.1l98.6 98.6M1260.9 2121.5l98.6 98.6M1290.2 2229.5l98.6 98.6M1319.7 2337.5l98.6 98.6M1349 2445.5l98.6 98.6M1378.5 2553.5l98.6 98.6M1407.9 2661.5l98.6 98.6M1369.1 2150.9l98.6 98.6M1398.5 2258.9l98.6 98.6M1427.9 2366.9l98.6 98.6M1457.2 2474.9l98.6 98.6M1486.7 2582.9l98.6 98.6M1516.1 2690.9l98.6 98.6M1447.9 2072.3l98.6 98.6M1477.3 2180.3l98.6 98.6M1506.7 2288.3l98.6 98.6M1536.1 2396.3l98.6 98.6M1565.5 2504.3l98.6 98.6M1594.9 2612.3l98.6 98.6M1624.3 2720.3l98.6 98.6M1556 2101.7l98.6 98.6M1585.5 2209.7l98.6 98.6M1614.8 2317.7l98.6 98.6M1644.2 2425.7l98.6 98.6M1673.6 2533.7l98.6 98.6M1703 2641.7l98.6 98.6M1732.5 2749.7l98.6 98.6M1664.2 2131.1l98.6 98.6M1693.7 2239.1l98.6 98.6M1723 2347.1l98.6 98.6M1743.1 2052.5l98.6 98.6" stroke="#1a1a1a" stroke-width="1.5" fill="none"/><path d="M-66.4 2445.2h1.6M-37 2553.2h1.6M-7.6 2661.2h1.6M-46.4 2150.6h1.6M-17 2258.6h1.6M12.4 2366.6h1.6M41.8 2474.6h1.6M71.2 2582.6h1.6M100.6 2690.6h1.6M32.5 2072h1.6M61.8 2180h1.6M91.2 2288h1.6M120.6 2396h1.6M150.1 2504h1.6M179.4 2612h1.6M208.9 2720h1.6M140.7 2101.4h1.6M170.1 2209.4h1.6M199.5 2317.4h1.6M228.9 2425.4h1.6M258.2 2533.4h1.6M287.7 2641.4h1.6M248.9 2130.8h1.6M278.2 2238.8h1.6M307.6 2346.8h1.6M337.1 2454.8h1.6M366.4 2562.8h1.6M395.8 2670.8h1.6M327.6 2052.2h1.6M357.1 2160.2h1.6M386.4 2268.2h1.6M415.8 2376.2h1.6M445.2 2484.2h1.6M474.6 2592.2h1.6M504.1 2700.2h1.6M435.9 2081.6h1.6M465.3 2189.6h1.6M494.7 2297.6h1.6M524 2405.6h1.6M553.4 2513.6h1.6M582.8 2621.6h1.6M544 2111h1.6M573.4 2219h1.6M602.8 2327h1.6M632.2 2435h1.6M661.6 2543h1.6M691 2651h1.6M622.8 2032.4h1.6M652.2 2140.4h1.6M681.6 2248.4h1.6M711 2356.4h1.6M740.4 2464.4h1.6M769.8 2572.4h1.6M799.2 2680.4h1.6M731 2061.8h1.6M760.5 2169.8h1.6M789.9 2277.8h1.6M819.2 2385.8h1.6M848.6 2493.8h1.6M878 2601.8h1.6M907.5 2709.8h1.6M839.2 2091.2h1.6M868.6 2199.2h1.6M898 2307.2h1.6M927.4 2415.2h1.6M956.8 2523.2h1.6M986.2 2631.2h1.6M947.4 2120.6h1.6M976.8 2228.6h1.6M1006.2 2336.6h1.6M1035.6 2444.6h1.6M1065 2552.6h1.6M1094.4 2660.6h1.6M1026.3 2042h1.6M1055.7 2150h1.6M1085.1 2258h1.6M1114.5 2366h1.6M1143.9 2474h1.6M1173.3 2582h1.6M1202.7 2690h1.6M1134.5 2071.4h1.6M1163.8 2179.4h1.6M1193.2 2287.4h1.6M1222.6 2395.4h1.6M1252 2503.4h1.6M1281.5 2611.4h1.6M1310.8 2719.4h1.6M1242.7 2100.8h1.6M1272 2208.8h1.6M1301.5 2316.8h1.6M1330.8 2424.8h1.6M1360.2 2532.8h1.6M1389.7 2640.8h1.6M1350.9 2130.2h1.6M1380.2 2238.2h1.6M1409.7 2346.2h1.6M1439 2454.2h1.6M1468.5 2562.2h1.6M1497.9 2670.2h1.6M1429.7 2051.6h1.6M1459.1 2159.6h1.6M1488.5 2267.6h1.6M1517.9 2375.6h1.6M1547.2 2483.6h1.6M1576.7 2591.6h1.6M1606.1 2699.6h1.6M1537.8 2081h1.6M1567.2 2189h1.6M1596.6 2297h1.6M1626 2405h1.6M1655.4 2513h1.6M1684.8 2621h1.6M1714.2 2729h1.6M1646 2110.4h1.6M1675.5 2218.4h1.6M1704.8 2326.4h1.6M1724.9 2031.8h1.6" stroke="#1a1a1a" stroke-width="1.6" fill="none"/></g>
<polyline points="95,2665.6 347.3,2665.6 347.3,2709.3 95,2709.3" fill="none" stroke="#1a1a1a" stroke-width="1.5" stroke-linejoin="round"/>
<clipPath id="pl"><rect x="95" y="2665.6" width="252.3" height="43.7"/></clipPath>
<g clip-path="url(#pl)"><path d="M21.9 2709.3l43.7 -43.7M71.2 2709.3l43.7 -43.7M120.5 2709.3l43.7 -43.7M169.8 2709.3l43.7 -43.7M219.1 2709.3l43.7 -43.7M268.4 2709.3l43.7 -43.7M317.7 2709.3l43.7 -43.7M367 2709.3l43.7 -43.7M416.3 2709.3l43.7 -43.7" stroke="#1a1a1a" stroke-width="1.5"/></g>
<polyline points="1709.7,2708.8 1383.5,2708.8 1383.5,2665.6 1636,2665.6" fill="none" stroke="#1a1a1a" stroke-width="1.5" stroke-linejoin="round"/>
<clipPath id="pr"><rect x="1383.5" y="2665.6" width="252.5" height="43.2"/></clipPath>
<g clip-path="url(#pr)"><path d="M1311.5 2708.8l43.2 -43.2M1360.5 2708.8l43.2 -43.2M1409.5 2708.8l43.2 -43.2M1458.5 2708.8l43.2 -43.2M1507.5 2708.8l43.2 -43.2M1556.5 2708.8l43.2 -43.2M1605.5 2708.8l43.2 -43.2M1654.5 2708.8l43.2 -43.2M1703.5 2708.8l43.2 -43.2" stroke="#1a1a1a" stroke-width="1.5"/></g>
<path d="M367 2714 L368 2652 Q368.5 2644 376 2644 L1355 2644 Q1362 2645 1364 2653 L1365.5 2714" fill="none" stroke="#1a1a1a" stroke-width="1.5" stroke-linejoin="round" stroke-linecap="round" />
<path d="M366 2714 L246.5 2715.3 Q238 2717 236 2724 Q235 2729 238.3 2732.6 A 758.7 758.7 0 0 0 1492.7 2732.6 Q1496 2729 1495 2724 Q1493 2716.5 1484.5 2715.3 L1365 2714" fill="none" stroke="#1a1a1a" stroke-width="1.5" stroke-linejoin="round" stroke-linecap="round" />
<rect x="385.5" y="2477" width="52.9" height="167" fill="none" stroke="#1a1a1a" stroke-width="1.5"/>
<rect x="397.5" y="2466" width="29" height="11" fill="#fff" stroke="#1a1a1a" stroke-width="1.3"/>
<line x1="412" y1="2468" x2="412" y2="2477" stroke="#1a1a1a" stroke-width="1.1"/>
<path d="M397.5 2468 Q404.8 2465.5 412 2468 Q419.2 2465.5 426.5 2468" fill="none" stroke="#1a1a1a" stroke-width="1.1" stroke-linejoin="round" stroke-linecap="round" />
<rect x="399.5" y="2458.5" width="25" height="7.5" fill="#fff" stroke="#1a1a1a" stroke-width="1.3"/>
<path d="M402.5 2458.5 V2453 Q402.5 2451 405 2451 H419 Q421.5 2451 421.5 2453 V2458.5" fill="none" stroke="#1a1a1a" stroke-width="1.3" stroke-linejoin="round" stroke-linecap="round" />
<line x1="403.5" y1="2452.5" x2="420.5" y2="2452.5" stroke="#1a1a1a" stroke-width="1.0"/>
<rect x="1292.5" y="2476.3" width="52.7" height="167.7" fill="none" stroke="#1a1a1a" stroke-width="1.5"/>
<rect x="1304.1" y="2465.3" width="29" height="11" fill="#fff" stroke="#1a1a1a" stroke-width="1.3"/>
<line x1="1318.6" y1="2467.3" x2="1318.6" y2="2476.3" stroke="#1a1a1a" stroke-width="1.1"/>
<path d="M1304.1 2467.3 Q1311.3 2464.8 1318.6 2467.3 Q1325.8 2464.8 1333.1 2467.3" fill="none" stroke="#1a1a1a" stroke-width="1.1" stroke-linejoin="round" stroke-linecap="round" />
<rect x="1306.1" y="2457.8" width="25" height="7.5" fill="#fff" stroke="#1a1a1a" stroke-width="1.3"/>
<path d="M1309.1 2457.8 V2452.3 Q1309.1 2450.3 1311.6 2450.3 H1325.6 Q1328.1 2450.3 1328.1 2452.3 V2457.8" fill="none" stroke="#1a1a1a" stroke-width="1.3" stroke-linejoin="round" stroke-linecap="round" />
<line x1="1310.1" y1="2451.8" x2="1327.1" y2="2451.8" stroke="#1a1a1a" stroke-width="1.0"/>
<path d="M385.60 2603.40L370.30 2603.40Q366.80 2603.40 363.60 2604.50L363.60 2604.50Q360.40 2605.60 357.88 2608.03L357.02 2608.87Q354.50 2611.30 353.90 2614.50L353.90 2614.50Q353.30 2617.70 353.30 2621.20L353.30 2629.50Q353.30 2633.00 353.30 2636.50L353.30 2645.30Q353.30 2648.80 352.40 2651.50L352.40 2651.50Q351.50 2654.20 348.80 2654.95L348.80 2654.95Q346.10 2655.70 342.60 2655.70L336.30 2655.70Q332.80 2655.70 330.05 2656.20L330.05 2656.20Q327.30 2656.70 324.85 2658.45L324.85 2658.45Q322.40 2660.20 320.90 2661.80L320.90 2661.80Q319.40 2663.40 320.40 2664.50L320.40 2664.50Q321.40 2665.60 323.90 2665.60L323.90 2665.60Q326.40 2665.60 328.60 2664.60L328.60 2664.60Q330.80 2663.60 334.30 2663.55L342.60 2663.45Q346.10 2663.40 349.37 2662.16L350.23 2661.84Q353.50 2660.60 355.95 2658.15L355.95 2658.15Q358.40 2655.70 359.28 2652.31L359.32 2652.19Q360.20 2648.80 360.13 2645.30L359.97 2636.50Q359.90 2633.00 359.90 2629.50L359.90 2621.20Q359.90 2617.70 360.65 2615.25L360.65 2615.25Q361.40 2612.80 364.10 2611.30L364.10 2611.30Q366.80 2609.80 370.30 2609.80L385.60 2609.80" fill="none" stroke="#1a1a1a" stroke-width="1.4" stroke-linejoin="round" stroke-linecap="round" />
<path d="M1345.20 2603.40L1360.50 2603.40Q1364.00 2603.40 1367.20 2604.50L1367.20 2604.50Q1370.40 2605.60 1372.92 2608.03L1373.78 2608.87Q1376.30 2611.30 1376.90 2614.50L1376.90 2614.50Q1377.50 2617.70 1377.50 2621.20L1377.50 2629.50Q1377.50 2633.00 1377.50 2636.50L1377.50 2645.30Q1377.50 2648.80 1378.40 2651.50L1378.40 2651.50Q1379.30 2654.20 1382.00 2654.95L1382.00 2654.95Q1384.70 2655.70 1388.20 2655.70L1394.50 2655.70Q1398.00 2655.70 1400.75 2656.20L1400.75 2656.20Q1403.50 2656.70 1405.95 2658.45L1405.95 2658.45Q1408.40 2660.20 1409.90 2661.80L1409.90 2661.80Q1411.40 2663.40 1410.40 2664.50L1410.40 2664.50Q1409.40 2665.60 1406.90 2665.60L1406.90 2665.60Q1404.40 2665.60 1402.20 2664.60L1402.20 2664.60Q1400.00 2663.60 1396.50 2663.55L1388.20 2663.45Q1384.70 2663.40 1381.43 2662.16L1380.57 2661.84Q1377.30 2660.60 1374.85 2658.15L1374.85 2658.15Q1372.40 2655.70 1371.52 2652.31L1371.48 2652.19Q1370.60 2648.80 1370.67 2645.30L1370.83 2636.50Q1370.90 2633.00 1370.90 2629.50L1370.90 2621.20Q1370.90 2617.70 1370.15 2615.25L1370.15 2615.25Q1369.40 2612.80 1366.70 2611.30L1366.70 2611.30Q1364.00 2609.80 1360.50 2609.80L1345.20 2609.80" fill="none" stroke="#1a1a1a" stroke-width="1.4" stroke-linejoin="round" stroke-linecap="round" />
<line x1="366.5" y1="2714.1" x2="1365.5" y2="2714.1" stroke="#1a1a1a" stroke-width="1.5"/>
<path d="M789.7 2644.2 V2492 Q789.7 2478.2 803.5 2478.2 H927 Q940.9 2478.2 940.9 2492 V2644.2" fill="none" stroke="#1a1a1a" stroke-width="1.5" stroke-linejoin="round" stroke-linecap="round" />
<path d="M797.4 2644.2 V2493.3 Q797.4 2485.9 804.8 2485.9 H926.7 Q934.1 2485.9 934.1 2493.3 V2644.2" fill="none" stroke="#1a1a1a" stroke-width="1.5" stroke-linejoin="round" stroke-linecap="round" />
<line x1="856.4" y1="2485.9" x2="856.4" y2="2614" stroke="#1a1a1a" stroke-width="1.5"/>
<line x1="874.3" y1="2485.9" x2="874.3" y2="2614" stroke="#1a1a1a" stroke-width="1.5"/>
<path d="M853.3 2614 H877.3 V2638 Q879 2641 877 2644 H854 Q852 2641 853.5 2638 Z" fill="none" stroke="#1a1a1a" stroke-width="1.5" stroke-linejoin="round" stroke-linecap="round" />
<line x1="853.3" y1="2615.5" x2="877.3" y2="2615.5" stroke="#1a1a1a" stroke-width="1.2"/>
<rect x="851.3" y="2467.2" width="29" height="11" fill="#fff" stroke="#1a1a1a" stroke-width="1.3"/>
<line x1="865.8" y1="2469.2" x2="865.8" y2="2478.2" stroke="#1a1a1a" stroke-width="1.1"/>
<path d="M851.3 2469.2 Q858.5 2466.7 865.8 2469.2 Q873 2466.7 880.3 2469.2" fill="none" stroke="#1a1a1a" stroke-width="1.1" stroke-linejoin="round" stroke-linecap="round" />
<rect x="853.3" y="2459.7" width="25" height="7.5" fill="#fff" stroke="#1a1a1a" stroke-width="1.3"/>
<path d="M856.3 2459.7 V2454.2 Q856.3 2452.2 858.8 2452.2 H872.8 Q875.3 2452.2 875.3 2454.2 V2459.7" fill="none" stroke="#1a1a1a" stroke-width="1.3" stroke-linejoin="round" stroke-linecap="round" />
<line x1="857.3" y1="2453.7" x2="874.3" y2="2453.7" stroke="#1a1a1a" stroke-width="1.0"/>
<rect x="974.9" y="2248.2" width="275.8" height="120.8" fill="#fff" stroke="#1a1a1a" stroke-width="1.6"/>
<line x1="1113.7" y1="2369" x2="1113.7" y2="2530" stroke="#1a1a1a" stroke-width="1.4"/>
<polygon points="1078.5,2527 1149.4,2527 1113.9,2637.5" fill="#000"/>
<line x1="1705.8" y1="2435" x2="1705.8" y2="2700" stroke="#333" stroke-width="1.3"/>
<polygon points="1705.8,2427.5 1701.3,2453.8 1710.3,2453.8" fill="#000"/>
<polygon points="1705.8,2708.3 1701.3,2682 1710.3,2682" fill="#000"/>
<line x1="847.4" y1="3185" x2="847.4" y2="3350.2" stroke="#1a1a1a" stroke-width="1.4"/>
<polygon points="847.4,3078.5 812.2,3189.3 883,3189.3" fill="#000"/>
<line x1="1940" y1="2188.9" x2="2435" y2="2188.9" stroke="#1a1a1a" stroke-width="1.3"/>
<line x1="1944.2" y1="2200" x2="1944.2" y2="2695" stroke="#333" stroke-width="1.3"/>
<polygon points="1944.2,2189.5 1939.7,2217.5 1948.7,2217.5" fill="#000"/>
<polygon points="1944.2,2704 1939.7,2676 1948.7,2676" fill="#000"/>
<line x1="1940" y1="2704.2" x2="2290.3" y2="2704.2" stroke="#1a1a1a" stroke-width="1.5"/>
<line x1="2019.3" y1="2435" x2="2019.3" y2="2695" stroke="#333" stroke-width="1.3"/>
<polygon points="2019.3,2425 2014.8,2451.4 2023.8,2451.4" fill="#000"/>
<polygon points="2019.3,2704 2014.8,2676 2023.8,2676" fill="#000"/>
<polyline points="2015,2424.5 2290.3,2424.5 2290.3,2704.2" fill="none" stroke="#1a1a1a" stroke-width="1.5" stroke-linejoin="round"/>
<polyline points="2107.4,2424.5 2107.4,2568.7 2072,2590 2145.3,2617.8 2107.4,2649.6 2107.4,2704.2" fill="none" stroke="#1a1a1a" stroke-width="1.5" stroke-linejoin="round"/>
<line x1="2107.4" y1="2531.8" x2="2215.5" y2="2424.5" stroke="#1a1a1a" stroke-width="1.5"/>
<line x1="2128.6" y1="2611.7" x2="2290.3" y2="2449.3" stroke="#1a1a1a" stroke-width="1.5"/>
<line x1="2133.7" y1="2704.2" x2="2290.3" y2="2548.5" stroke="#1a1a1a" stroke-width="1.5"/>
<line x1="2232.3" y1="2704.2" x2="2290.3" y2="2646.6" stroke="#1a1a1a" stroke-width="1.5"/>
<rect x="2366.5" y="2239.6" width="106" height="335" fill="none" stroke="#1a1a1a" stroke-width="1.5"/>
<path d="M2391.2 2221 L2394 2217.6 H2444.8 L2447.6 2221 V2236.5 L2444.8 2240 H2394 L2391.2 2236.5 Z" fill="none" stroke="#1a1a1a" stroke-width="1.4"/>
<line x1="2419.3" y1="2218.5" x2="2419.3" y2="2239.5" stroke="#1a1a1a" stroke-width="1.2"/>
<path d="M2391.5 2221.5 Q2405 2218.5 2419.3 2221.5 Q2433 2218.5 2447.3 2221.5" fill="none" stroke="#1a1a1a" stroke-width="1.1" stroke-linejoin="round" stroke-linecap="round" />
<path d="M2391.5 2236.5 Q2405 2239 2419.3 2236.5 Q2433 2239 2447.3 2236.5" fill="none" stroke="#1a1a1a" stroke-width="1.1" stroke-linejoin="round" stroke-linecap="round" />
<rect x="2394.3" y="2204.6" width="50.4" height="13" fill="none" stroke="#1a1a1a" stroke-width="1.4"/>
<path d="M2401.4 2204.6 V2192.5 Q2401.4 2189 2405 2189 H2434 Q2437.5 2189 2437.5 2192.5 V2204.6" fill="none" stroke="#1a1a1a" stroke-width="1.4" stroke-linejoin="round" stroke-linecap="round" />
<line x1="2402" y1="2192.2" x2="2437" y2="2192.2" stroke="#1a1a1a" stroke-width="1.0"/>
<path d="M2366.50 2299.60L2335.60 2299.60Q2329.60 2299.60 2323.80 2300.55L2323.80 2300.55Q2318.00 2301.50 2313.00 2304.75L2313.00 2304.75Q2308.00 2308.00 2305.35 2313.00L2305.35 2313.00Q2302.70 2318.00 2302.05 2323.97L2302.05 2324.03Q2301.40 2330.00 2301.40 2336.00L2301.40 2384.20Q2301.40 2390.20 2300.45 2394.10L2300.45 2394.10Q2299.50 2398.00 2297.40 2400.15L2297.40 2400.15Q2295.30 2402.30 2291.15 2403.65L2291.15 2403.65Q2287.00 2405.00 2281.00 2405.00L2266.20 2405.00Q2260.20 2405.00 2254.63 2407.24L2251.87 2408.36Q2246.30 2410.60 2241.54 2414.25L2240.76 2414.85Q2236.00 2418.50 2235.25 2420.50L2235.25 2420.50Q2234.50 2422.50 2235.75 2423.40L2235.75 2423.40Q2237.00 2424.30 2243.00 2424.30L2244.00 2424.30Q2250.00 2424.30 2252.75 2422.10L2252.75 2422.10Q2255.50 2419.90 2258.75 2419.60L2258.75 2419.60Q2262.00 2419.30 2268.00 2419.23L2281.00 2419.07Q2287.00 2419.00 2292.77 2417.37L2297.83 2415.93Q2303.60 2414.30 2307.55 2410.15L2307.55 2410.15Q2311.50 2406.00 2312.83 2400.15L2313.77 2396.05Q2315.10 2390.20 2315.10 2384.20L2315.10 2335.20Q2315.10 2329.20 2316.05 2325.60L2316.05 2325.60Q2317.00 2322.00 2318.65 2319.10L2318.65 2319.10Q2320.30 2316.20 2324.95 2314.80L2324.95 2314.80Q2329.60 2313.40 2335.60 2313.40L2366.50 2313.40" fill="none" stroke="#1a1a1a" stroke-width="1.4" stroke-linejoin="round" stroke-linecap="round" />
<path d="M2696.1 2574.3 H2345 Q2334.5 2575 2331 2581 Q2329 2586 2329.2 2592 L2327.5 2714.1" fill="none" stroke="#1a1a1a" stroke-width="1.5" stroke-linejoin="round" stroke-linecap="round" />
<line x1="2309.3" y1="2714.1" x2="2613.3" y2="2714.1" stroke="#1a1a1a" stroke-width="1.5"/>
<text transform="translate(1646,806.8) scale(1,1.04)" font-family="Liberation Sans" font-size="49" font-weight="400" text-anchor="start" fill="#000">Svítidlo nesmí být z horní strany zakryto izolací.</text>
<text transform="translate(1645,902.8) scale(1,1.04)" font-family="Liberation Sans" font-size="49" font-weight="400" text-anchor="start" fill="#000">Luminaire must not be covered with insulating matting.</text>
<text transform="translate(356,1872) scale(1,1.04)" font-family="Liberation Sans" font-size="49" font-weight="400" text-anchor="start" fill="#000">Rozměry dutiny pro vestavné svítidlo [mm]:</text>
<text transform="translate(355,1960) scale(1,1.04)" font-family="Liberation Sans" font-size="49" font-weight="400" text-anchor="start" fill="#000">Dimensions of cavity for recessed luminaire [mm]:</text>
<text transform="translate(1730,2876.5) scale(1,1.04)" font-family="Liberation Sans" font-size="49" font-weight="400" text-anchor="start" fill="#000">Montáž do pevných materiálů - sádrokarton, dřevo.</text>
<text transform="translate(1730,2970.5) scale(1,1.04)" font-family="Liberation Sans" font-size="49" font-weight="400" text-anchor="start" fill="#000">Mounting into solid materials - plasterboard, wood.</text>
<text transform="translate(503,1615) scale(1,1.015)" font-family="Liberation Sans" font-size="74" font-weight="400" text-anchor="start" fill="#000">Ø 278 mm</text>
<text transform="translate(409,2092) scale(1,1.04)" font-family="Liberation Sans" font-size="39.2" font-weight="400" text-anchor="start" fill="#000">Ø Montážní otvor + 30 mm / Ø Mounting hole + 30 mm</text>
<text transform="translate(1014,2341.5) scale(1,1.04)" font-family="Liberation Sans" font-size="98" font-weight="700" text-anchor="start" fill="#000">IP20</text>
<text transform="translate(920,3348.7) scale(1,1.04)" font-family="Liberation Sans" font-size="97" font-weight="700" text-anchor="start" fill="#000">IP</text>
<text transform="translate(1699.5,2668.5) rotate(-90) scale(1,1.04)" font-family="Liberation Sans" font-size="39.5" font-weight="400" text-anchor="start" fill="#000">MIN 80 mm</text>
<text transform="translate(1939.3,2506) rotate(-90) scale(1,1.04)" font-family="Liberation Sans" font-size="39.3" font-weight="400" text-anchor="start" fill="#000">76 mm</text>
<text transform="translate(2013.5,2673) rotate(-90) scale(1,1.04)" font-family="Liberation Sans" font-size="39.5" font-weight="400" text-anchor="start" fill="#000">MAX 40 mm</text>
</svg></body></html>
